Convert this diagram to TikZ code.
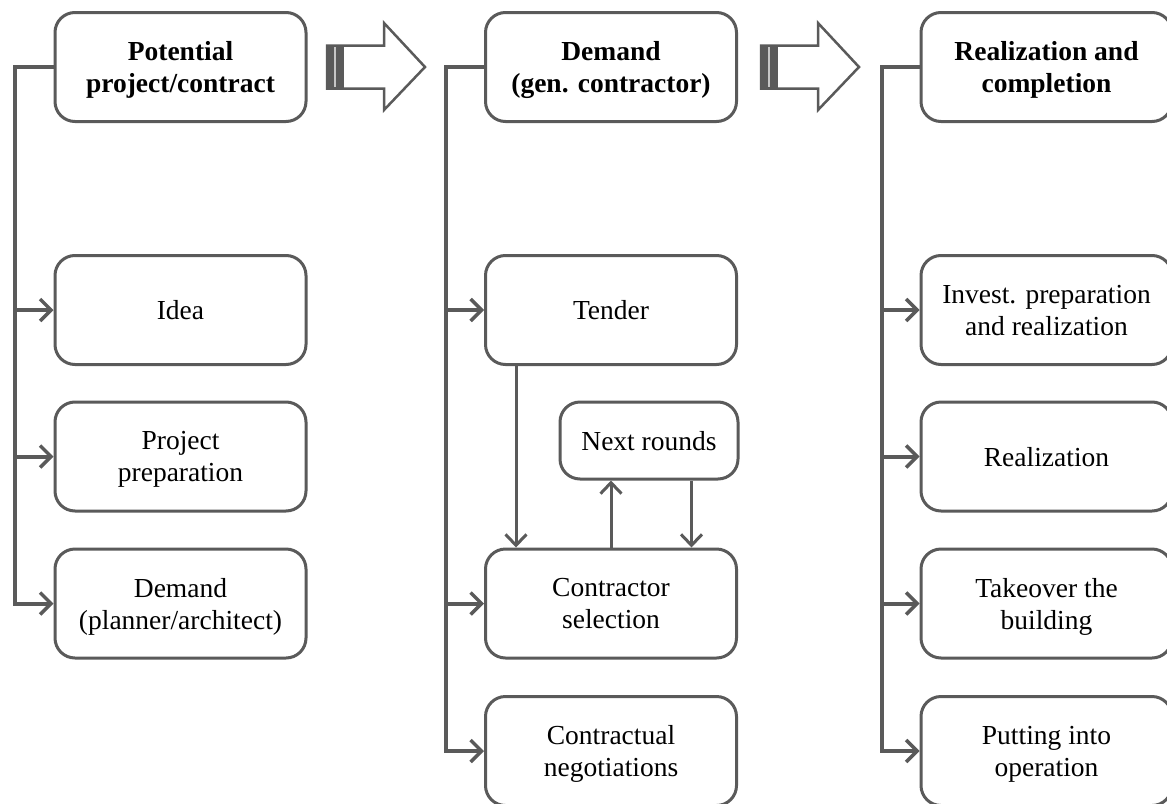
\documentclass[tikz,border=0pt]{standalone}
\usepackage{fontspec}
\setmainfont{Liberation Serif}
\usetikzlibrary{arrows.meta}
\definecolor{lgray}{HTML}{5A5A5A}
\tikzset{
  box/.style={draw=lgray, line width=3pt, rounded corners=20pt, fill=white,
    minimum width=251pt, minimum height=109pt, align=center, inner sep=2pt,
    text depth=0pt, font=\fontsize{27.5}{32}\selectfont},
  title/.style={box, font=\fontsize{27.5}{32}\selectfont\bfseries},
  smallbox/.style={box, minimum width=178pt, minimum height=77pt},
  bracket/.style={draw=lgray, line width=4pt},
  tip/.style={-{Straight Barb[length=11pt,width=22pt,line width=3.5pt]}},
  thin/.style={draw=lgray, line width=3pt, -{Straight Barb[length=11pt,width=21pt,line width=3pt]}},
  blockarrow/.style={draw=lgray, line width=2.5pt, fill=white, line join=miter}
}
\begin{document}
\begin{tikzpicture}[x=1pt,y=-1pt]
\clip (0,0) rectangle (1167,803);
\useasboundingbox (0,0) rectangle (1167,803);
\fill[white] (0,0) rectangle (1167,803);

% column 1
\node[title] (t1) at (180.5,67) {Potential\\project/contract};
\node[box] (a1) at (180.5,310) {Idea};
\node[box] (a2) at (180.5,456.5) {Project\\preparation};
\node[box] (a3) at (180.5,603.5) {Demand\\(planner/architect)};

% column 2
\node[title] (t2) at (611,67) {Demand\\(gen. contractor)};
\node[box] (b1) at (611,310) {Tender};
\node[smallbox] (nr) at (649,440.5) {Next rounds};
\node[box] (b2) at (611,603.5) {Contractor\\selection};
\node[box] (b3) at (611,751) {Contractual\\negotiations};

% column 3
\node[title] (t3) at (1046.5,67) {Realization and\\completion};
\node[box] (c1) at (1046.5,310) {Invest. preparation\\and realization};
\node[box] (c2) at (1046.5,456.5) {Realization};
\node[box] (c3) at (1046.5,603.5) {Takeover the\\building};
\node[box] (c4) at (1046.5,751) {Putting into\\operation};

% brackets
\coordinate (L1) at (15,67);
\coordinate (L2) at (446,67);
\coordinate (L3) at (882,67);

\draw[bracket, tip] (t1.west) -- (L1) |- (a3.west);
\draw[bracket, tip] (L1 |- a1.west) -- (a1.west);
\draw[bracket, tip] (L1 |- a2.west) -- (a2.west);

\draw[bracket, tip] (t2.west) -- (L2) |- (b3.west);
\draw[bracket, tip] (L2 |- b1.west) -- (b1.west);
\draw[bracket, tip] (L2 |- b2.west) -- (b2.west);

\draw[bracket, tip] (t3.west) -- (L3) |- (c4.west);
\draw[bracket, tip] (L3 |- c1.west) -- (c1.west);
\draw[bracket, tip] (L3 |- c2.west) -- (c2.west);
\draw[bracket, tip] (L3 |- c3.west) -- (c3.west);

% inner arrows column 2
\draw[thin] ([xshift=32pt]b1.south west) -- ([xshift=32pt]b2.north west);
\draw[thin] (b2.north) -- (b2.north |- nr.south);
\draw[thin] ([xshift=-48pt]nr.south east) -- ([xshift=-48pt]nr.south east |- b2.north);

% block arrows
\foreach \dx/\nm in {0/ba1, 434/ba2}{
  \begin{scope}[xshift=\dx pt]
    \draw[blockarrow] (327,45.5) -- (384,45.5) -- (384,23) -- (425,67) -- (384,110) -- (384,88.5) -- (327,88.5) -- cycle;
    \fill[lgray] (326,44.5) rectangle (343.5,89.5);
    \fill[gray!45] (333.5,47) rectangle (336,87);
    \coordinate (\nm) at (376,67);
  \end{scope}
}
\end{tikzpicture}
\end{document}
